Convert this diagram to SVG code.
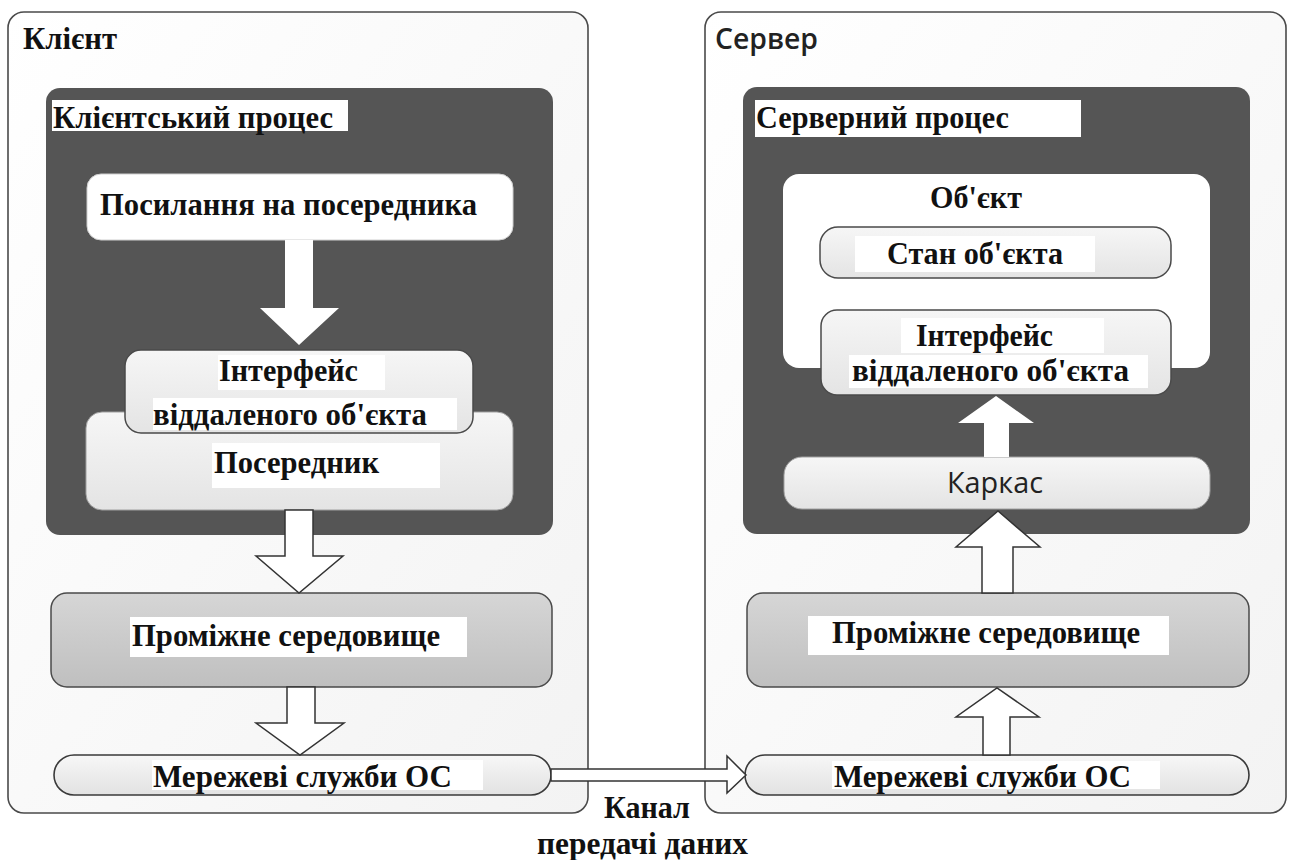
<svg xmlns="http://www.w3.org/2000/svg" width="1296" height="860" viewBox="0 0 1296 860">
<defs>
<linearGradient id="gOuter" x1="0" y1="0" x2="1" y2="1"><stop offset="0" stop-color="#ffffff"/><stop offset="1" stop-color="#f3f3f3"/></linearGradient>
<linearGradient id="gLight" x1="0" y1="0" x2="0" y2="1"><stop offset="0" stop-color="#f6f6f6"/><stop offset="1" stop-color="#e4e4e4"/></linearGradient>
<linearGradient id="gMid" x1="0" y1="0" x2="0" y2="1"><stop offset="0" stop-color="#d6d6d6"/><stop offset="1" stop-color="#bfbfbf"/></linearGradient>
<linearGradient id="gNet" x1="0" y1="0" x2="0" y2="1"><stop offset="0" stop-color="#f7f7f7"/><stop offset="1" stop-color="#e2e2e2"/></linearGradient>
</defs>
<style>
.outer{fill:url(#gOuter);stroke:#4a4a4a;stroke-width:1.6}
.dark{fill:#555555}
.white{fill:#ffffff}
.light{fill:url(#gLight);stroke:#4a4a4a;stroke-width:1.5}
.lightsoft{fill:url(#gLight);stroke:#a0a0a0;stroke-width:1}
.mid{fill:url(#gMid);stroke:#4a4a4a;stroke-width:1.5}
.net{fill:url(#gNet);stroke:#3a3a3a;stroke-width:1.6}
.bg{fill:#ffffff}
.t{font-family:"Liberation Serif","Times New Roman",serif;font-weight:bold;font-size:32px;fill:#111}
.s{font-family:"Open Sans","Noto Sans",sans-serif;fill:#222}
.arW{fill:#ffffff}
.arO{fill:#ffffff;stroke:#333;stroke-width:1.5;stroke-linejoin:miter}
</style>
<rect width="1296" height="860" fill="#ffffff"/>

<g id="client">
<rect class="outer" x="8" y="12" width="580" height="801" rx="16"/>
<text class="t" x="23" y="49" font-size="30" textLength="94" lengthAdjust="spacingAndGlyphs">Клієнт</text>
</g>
<g id="client-process">
<rect class="dark" x="46" y="88" width="507" height="447" rx="14"/>
<rect class="bg" x="52" y="100" width="296" height="31"/>
<text class="t" x="53" y="128" font-size="31" textLength="280" lengthAdjust="spacingAndGlyphs">Клієнтський процес</text>
</g>
<g id="proxy-ref">
<rect class="white" x="87" y="174" width="426" height="66" rx="14" stroke="#cfcfcf" stroke-width="1"/>
<text class="t" x="100" y="215" textLength="377" lengthAdjust="spacingAndGlyphs">Посилання на посередника</text>
</g>
<g id="proxy">
<rect class="lightsoft" x="86" y="412" width="427" height="98" rx="16"/>
<rect class="bg" x="212" y="443" width="228" height="45"/>
<text class="t" x="214" y="473" textLength="165" lengthAdjust="spacingAndGlyphs">Посередник</text>
</g>
<g id="client-interface">
<rect class="light" x="125" y="350" width="348" height="83" rx="16"/>
<rect class="bg" x="218" y="355" width="167" height="35"/>
<rect class="bg" x="153" y="398" width="304" height="32"/>
<text class="t" x="219" y="381" textLength="139" lengthAdjust="spacingAndGlyphs">Інтерфейс</text>
<text class="t" x="153" y="425" textLength="274" lengthAdjust="spacingAndGlyphs">віддаленого об'єкта</text>
</g>
<g id="client-middleware">
<rect class="mid" x="51" y="593" width="501" height="94" rx="16"/>
<rect class="bg" x="130" y="617" width="337" height="40"/>
<text class="t" x="132" y="646" textLength="308" lengthAdjust="spacingAndGlyphs">Проміжне середовище</text>
</g>
<g id="client-network">
<rect class="net" x="54" y="755" width="497" height="40" rx="20"/>
<rect class="bg" x="152" y="760" width="331" height="30"/>
<text class="t" x="153" y="787" textLength="299" lengthAdjust="spacingAndGlyphs">Мережеві служби ОС</text>
</g>

<g id="server">
<rect class="outer" x="705" y="12" width="581" height="801" rx="16"/>
<text class="s" x="715" y="49" font-size="28" font-weight="600" textLength="103" lengthAdjust="spacingAndGlyphs">Сервер</text>
</g>
<g id="server-process">
<rect class="dark" x="743" y="87" width="507" height="447" rx="14"/>
<rect class="bg" x="755" y="100" width="326" height="37"/>
<text class="t" x="756" y="128" font-size="31" textLength="253" lengthAdjust="spacingAndGlyphs">Серверний процес</text>
</g>
<g id="object">
<rect class="white" x="783" y="174" width="427" height="194" rx="16"/>
<text class="t" x="930" y="208" textLength="92" lengthAdjust="spacingAndGlyphs">Об'єкт</text>
</g>
<g id="object-state">
<rect class="light" x="820" y="227" width="351" height="51" rx="18"/>
<rect class="bg" x="855" y="236" width="240" height="36"/>
<text class="t" x="887" y="264" textLength="176" lengthAdjust="spacingAndGlyphs">Стан об'єкта</text>
</g>
<g id="server-interface">
<rect class="light" x="821" y="310" width="350" height="85" rx="16"/>
<rect class="bg" x="901" y="318" width="203" height="35"/>
<rect class="bg" x="849" y="355" width="299" height="33"/>
<text class="t" x="916" y="346" textLength="137" lengthAdjust="spacingAndGlyphs">Інтерфейс</text>
<text class="t" x="852" y="381" textLength="277" lengthAdjust="spacingAndGlyphs">віддаленого об'єкта</text>
</g>
<g id="skeleton">
<rect class="lightsoft" x="784" y="457" width="426" height="52" rx="18"/>
<text class="s" x="947" y="493" font-size="30" textLength="96" lengthAdjust="spacingAndGlyphs">Каркас</text>
</g>
<g id="server-middleware">
<rect class="mid" x="747" y="593" width="502" height="94" rx="16"/>
<rect class="bg" x="808" y="616" width="361" height="39"/>
<text class="t" x="832" y="643" textLength="308" lengthAdjust="spacingAndGlyphs">Проміжне середовище</text>
</g>
<g id="server-network">
<rect class="net" x="745" y="755" width="504" height="40" rx="20"/>
<rect class="bg" x="832" y="761" width="328" height="28"/>
<text class="t" x="834" y="787" textLength="297" lengthAdjust="spacingAndGlyphs">Мережеві служби ОС</text>
</g>

<g id="connectors">
<polygon class="arW" points="285,240 313,240 313,308 339,308 299,345 260,308 285,308"/>
<polygon class="arO" points="285,510 313,510 313,556 343,556 299,593 256,556 285,556"/>
<polygon class="arO" points="287,687 315,687 315,723 344,723 300,755 256,723 287,723"/>
<polygon class="arO" points="983,755 1010,755 1010,717 1039,717 997,688 956,717 983,717"/>
<polygon class="arO" points="982,593 1013,593 1013,547 1040,547 998,511 956,547 982,547"/>
<polygon class="arW" points="984,457 1009,457 1009,423 1034,423 996,396 958,423 984,423"/>
<polygon class="arO" points="551,769 727,769 727,756 746,775 727,793 727,781 551,781"/>
</g>

<g id="channel-label">
<text class="t" x="604" y="818" font-size="27" textLength="86" lengthAdjust="spacingAndGlyphs">Канал</text>
<text class="t" x="537" y="854" font-size="28" textLength="211" lengthAdjust="spacingAndGlyphs">передачі даних</text>
</g>
</svg>
